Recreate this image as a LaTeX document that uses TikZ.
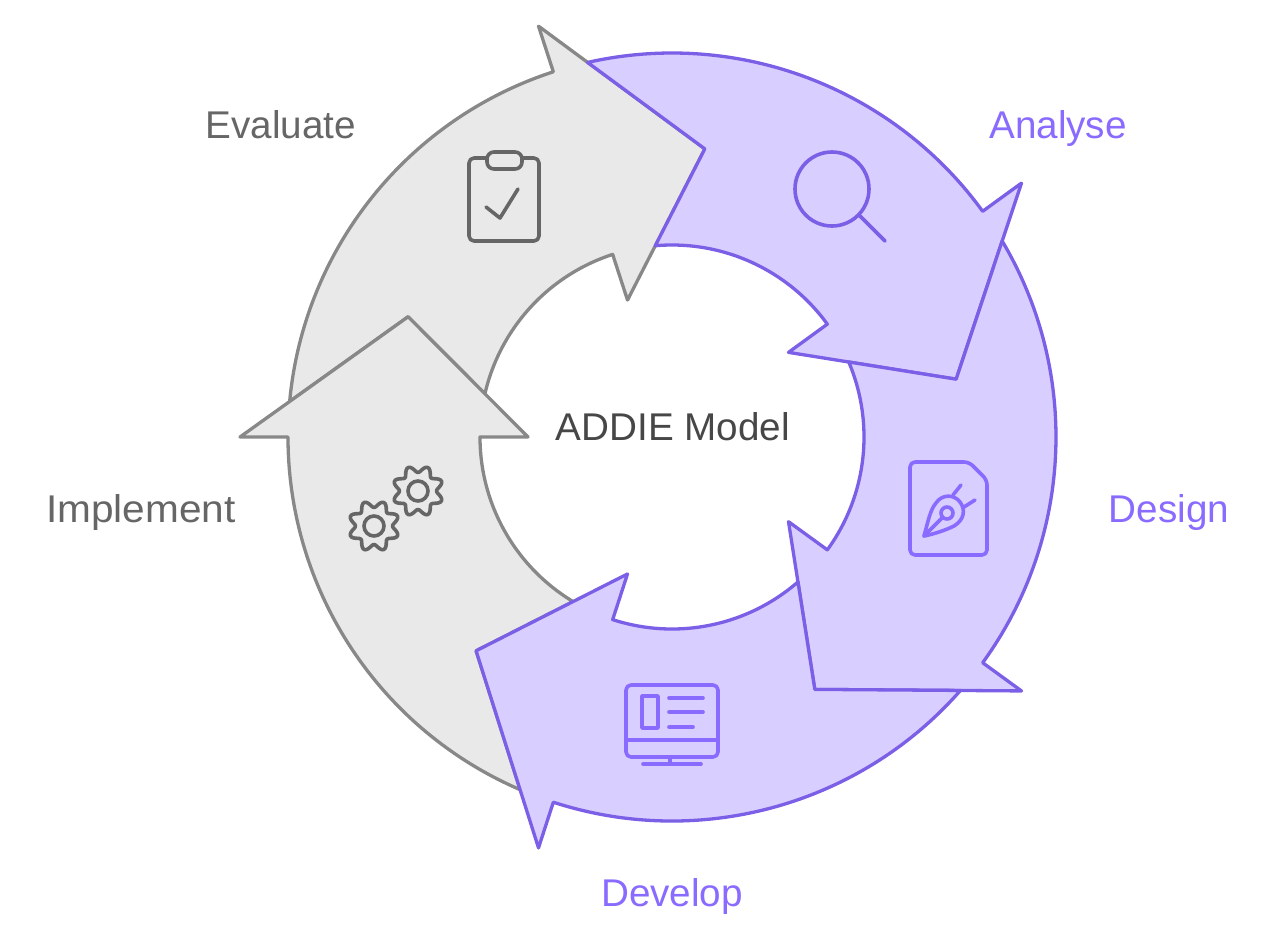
\documentclass[tikz,border=0pt]{standalone}
\usepackage{fontspec}
\setmainfont{Liberation Sans}
\definecolor{violetline}{HTML}{7B5FE6}
\definecolor{violetfill}{HTML}{D8CEFF}
\definecolor{violetink}{HTML}{8A6BFF}
\definecolor{greyline}{HTML}{888888}
\definecolor{greyfill}{HTML}{E9E9E9}
\definecolor{greyink}{HTML}{666666}
\tikzset{
    greyarrow/.style={draw=greyline, fill=greyfill},
    violetarrow/.style={draw=violetline, fill=violetfill},
    label/.style={anchor=base, inner sep=0pt, font=\fontsize{22}{26}\selectfont},
    icon/.style={line width=0.072cm, line cap=round, line join=round, rounded corners=0.1cm}
}
\begin{document}
\begin{tikzpicture}[x=0.02cm, y=-0.02cm]
    \useasboundingbox (0,0) rectangle (1272,941);
    % five ring arrows, head at \ang, tail tucked under the next head
    \begin{scope}[shift={(672,437)}, y=0.02cm, line width=0.066cm, line join=round]
        \foreach \ang/\sty/\last in {108/greyarrow/180, 180/greyarrow/252, 36/violetarrow/108, -36/violetarrow/36, -108/violetarrow/-36} {
            \draw[\sty] ({\last-5.3}:384) arc[start angle={\last-5.3}, end angle=\ang, radius=384]
                -- (\ang:432) -- ({\ang-24.5}:290) -- (\ang:144) -- (\ang:192)
                arc[start angle=\ang, end angle={\last-13}, radius=192]
                -- ({\last-24.5}:290) -- cycle;
        }
    \end{scope}
    % labels
    \node[label, text=greyink] (evaluate) at (281,138) {Evaluate};
    \node[label, text=violetink] (analyse) at (1058,138) {Analyse};
    \node[label, text=greyink, xscale=1.05, transform shape] (implement) at (141,522) {Implement};
    \node[label, text=violetink] (design) at (1169,522) {Design};
    \node[label, text=violetink] (develop) at (672,906) {Develop};
    \node[label, text=black!72] (addie) at (673,440) {ADDIE Model};
    % clipboard
    \begin{scope}[icon, draw=greyink]
        \draw (486,158) -- (469,158) -- (469,241) -- (539,241) -- (539,158) -- (523,158);
        \draw[rounded corners=0.14cm] (487,152) rectangle (522,169);
        \draw[rounded corners=0pt] (486,207) -- (500,218) -- (518,189);
    \end{scope}
    % gears
    \begin{scope}[icon, draw=greyink, rounded corners=0pt]
        \foreach \cx/\cy in {374/526, 418/491} {
            \draw plot[domain=0:360, samples=97, smooth] ({\cx+(22-3.5*cos(8*\x))*cos(\x)}, {\cy+(22-3.5*cos(8*\x))*sin(\x)}) -- cycle;
            \draw (\cx,\cy) circle[radius=10];
        }
    \end{scope}
    % magnifier
    \begin{scope}[icon, draw=violetline]
        \draw (832,189) circle[radius=37];
        \draw (860,216) -- (885,241);
    \end{scope}
    % file with pen nib
    \begin{scope}[icon, draw=violetink]
        \draw (969,462) -- (910,462) -- (910,555) -- (987,555) -- (987,480) -- cycle;
        \draw[rounded corners=0pt] (924,536) .. controls (928,522) and (930,510) .. (936,503)
            .. controls (942,494) and (954,494) .. (960,502)
            .. controls (966,510) and (964,520) .. (954,526)
            .. controls (946,530) and (934,534) .. (924,536) -- cycle;
        \draw (947,513) circle[radius=6];
        \draw (924,536) -- (942,518);
        \draw (953,495) -- (961,485);
        \draw (964,507) -- (975,500);
    \end{scope}
    % monitor
    \begin{scope}[icon, draw=violetink]
        \draw (626,685) rectangle (718,757);
        \draw (626,740) -- (718,740);
        \draw (670,757) -- (670,764);
        \draw (643,764) -- (701,764);
        \draw[rounded corners=0pt] (642,696) rectangle (658,728);
        \draw (669,698) -- (703,698);
        \draw (669,712) -- (703,712);
        \draw (669,727) -- (693,727);
    \end{scope}
\end{tikzpicture}
\end{document}
